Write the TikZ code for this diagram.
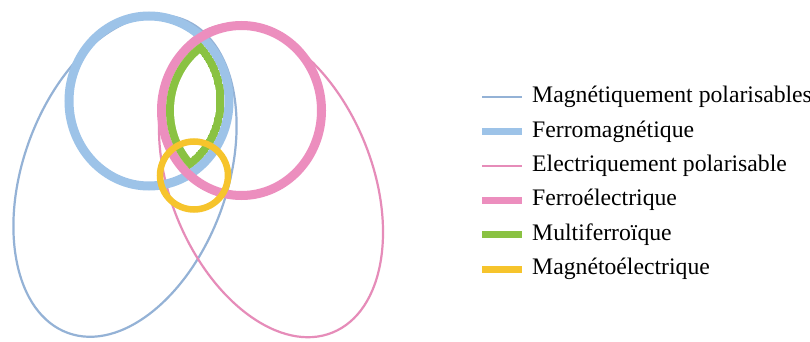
\documentclass[tikz,border=0pt]{standalone}
\usepackage{fontspec}
\setmainfont{Liberation Serif}
\definecolor{magthin}{RGB}{148,178,214}
\definecolor{magthick}{RGB}{157,195,232}
\definecolor{electhin}{RGB}{230,140,185}
\definecolor{electhick}{RGB}{236,142,190}
\definecolor{multicol}{RGB}{138,194,66}
\definecolor{magelec}{RGB}{246,196,44}
\begin{document}
\begin{tikzpicture}[x=1pt, y=-1pt,
            thinset/.style={line width=2.2pt},
            thickset/.style={line width=9pt},
            keyline/.style={line width=#1},
            label/.style={anchor=west, inner sep=0pt, font=\fontsize{23.7}{28}\selectfont}
        ]
            \useasboundingbox[fill=white] (0,0) rectangle (810,342);
            \draw[thinset, magthin]  (125,176)   ellipse [x radius=102, y radius=167, rotate=-20];
            \draw[thinset, electhin] (271,180.5) ellipse [x radius=101, y radius=164, rotate=22];
            \draw[thickset, magthick]  (149,101)     ellipse [x radius=80, y radius=85];
            \draw[thickset, electhick] (241.5,110.5) ellipse [x radius=80, y radius=85];
            \begin{scope}
                \clip (149,101) ellipse [x radius=75.5, y radius=80.5];
                \clip (241.5,110.5) ellipse [x radius=75.5, y radius=80.5];
                \fill[multicol] (149,101) ellipse [x radius=75.5, y radius=80.5];
            \end{scope}
            \begin{scope}
                \clip (149,101) ellipse [x radius=67.5, y radius=72.5];
                \clip (241.5,110.5) ellipse [x radius=67.5, y radius=72.5];
                \fill[white] (149,101) ellipse [x radius=67.5, y radius=72.5];
            \end{scope}
            \draw[line width=6.5pt, magelec] (194,175.5) circle [radius=34];
            \draw[keyline=2.5pt, magthin]  (482,97)    -- (522,97);
            \draw[keyline=7pt, magthick]   (482,131.4) -- (522,131.4);
            \draw[keyline=2.5pt, electhin] (482,165.8) -- (522,165.8);
            \draw[keyline=7pt, electhick]  (482,200.2) -- (522,200.2);
            \draw[keyline=7pt, multicol]   (482,234.6) -- (522,234.6);
            \draw[keyline=7pt, magelec]    (482,269)   -- (522,269);
            \node[label] (l1) at (532,97)    {Magnétiquement polarisables};
            \node[label] (l2) at (532,131.4) {Ferromagnétique};
            \node[label] (l3) at (532,165.8) {Electriquement polarisable};
            \node[label] (l4) at (532,200.2) {Ferroélectrique};
            \node[label] (l5) at (532,234.6) {Multiferroïque};
            \node[label] (l6) at (532,269)   {Magnétoélectrique};
        \end{tikzpicture}
\end{document}
